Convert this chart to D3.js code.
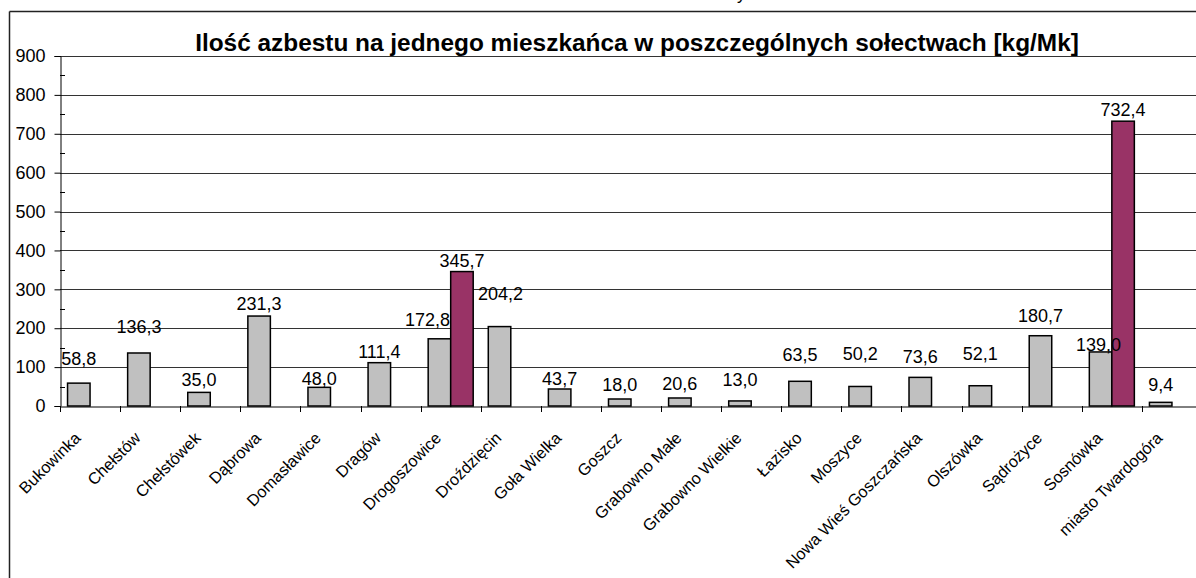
<!DOCTYPE html>
<html>
<head>
<meta charset="utf-8">
<script src="https://cdn.jsdelivr.net/npm/d3@7"></script>
<style>
  body { margin: 0; background: #fff; }
  svg { display: block; font-family: "Liberation Sans", Arial, sans-serif; }
</style>
</head>
<body>
<div id="chart"></div>
<script>
// data
const categories = ["Bukowinka", "Chełstów", "Chełstówek", "Dąbrowa", "Domasławice", "Dragów",
  "Drogoszowice", "Droździęcin", "Goła Wielka", "Goszcz", "Grabowno Małe", "Grabowno Wielkie",
  "Łazisko", "Moszyce", "Nowa Wieś Goszczańska", "Olszówka", "Sądrożyce", "Sosnówka", "miasto Twardogóra"];
const seriesGray = [58.8, 136.3, 35.0, 231.3, 48.0, 111.4, 172.8, 204.2, 43.7, 18.0, 20.6, 13.0,
  63.5, 50.2, 73.6, 52.1, 180.7, 139.0, 9.4];
const seriesPurple = [null, null, null, null, null, null, 345.7, null, null, null, null, null,
  null, null, null, null, null, 732.4, null];
const yTicks = [0, 100, 200, 300, 400, 500, 600, 700, 800, 900];
const title = "Ilość azbestu na jednego mieszkańca w poszczególnych sołectwach [kg/Mk]";

const W = 1196, H = 578;
// plot area runs a bit past the right edge of the picture
const margin = {left: 60, top: 56, right: -6, bottom: 172};

const svg = d3.select("#chart").append("svg")
  .attr("width", W).attr("height", H);

// chart frame (only top and left visible)
svg.append("line").attr("x1", 9.5).attr("x2", W).attr("y1", 11.5).attr("y2", 11.5)
  .attr("stroke", "#222").attr("stroke-width", 1.5);
svg.append("line").attr("x1", 9.5).attr("x2", 9.5).attr("y1", 11.5).attr("y2", H)
  .attr("stroke", "#222").attr("stroke-width", 1.5);

// tail of a letter cut off above the frame
svg.append("text").attr("x", 737).attr("y", 0).style("font-size", "17px").text("y");

const x = d3.scaleBand().domain(categories)
  .range([margin.left, W - margin.right]).paddingInner(0).paddingOuter(0);
const xs = d3.scaleBand().domain(["gray", "purple"])
  .range([0, x.bandwidth()]).paddingInner(0).paddingOuter(0.335);
const y = d3.scaleLinear().domain([0, 900]).range([H - margin.bottom, margin.top]);

// gridlines
svg.append("g")
  .selectAll("line").data(yTicks.filter(d => d > 0)).join("line")
  .attr("x1", margin.left).attr("x2", W)
  .attr("y1", d => Math.round(y(d)) + 0.5).attr("y2", d => Math.round(y(d)) + 0.5)
  .attr("stroke", "#333").attr("stroke-width", 1);

// y axis
const yAxis = svg.append("g")
  .attr("transform", `translate(${margin.left + 0.5},0)`)
  .call(d3.axisLeft(y).tickValues(yTicks).tickSize(6).tickPadding(9).tickFormat(d3.format("d")));
yAxis.select(".domain").attr("stroke", "#000");
yAxis.selectAll("text").style("font-size", "18px").attr("fill", "#000")
  .attr("font-family", "'Liberation Sans', Arial, sans-serif");
// minor ticks
svg.append("g").selectAll("line")
  .data(d3.range(50, 900, 100)).join("line")
  .attr("x1", margin.left).attr("x2", margin.left + 5)
  .attr("y1", d => Math.round(y(d)) + 0.5).attr("y2", d => Math.round(y(d)) + 0.5)
  .attr("stroke", "#000");

// bars
const rows = categories.map((c, i) => ({c, i, gray: seriesGray[i], purple: seriesPurple[i]}));
const barData = [];
rows.forEach(r => {
  if (r.gray != null) barData.push({c: r.c, i: r.i, s: "gray", v: r.gray});
  if (r.purple != null) barData.push({c: r.c, i: r.i, s: "purple", v: r.purple});
});
const fill = {gray: "#C0C0C0", purple: "#993366"};

svg.append("g").selectAll("rect").data(barData).join("rect")
  .attr("x", d => x(d.c) + xs(d.s))
  .attr("y", d => y(d.v))
  .attr("width", xs.bandwidth())
  .attr("height", d => y(0) - y(d.v))
  .attr("fill", d => fill[d.s])
  .attr("stroke", "#000").attr("stroke-width", 1.5);

// x axis
const xAxis = svg.append("g")
  .attr("transform", `translate(0,${y(0) + 0.5})`)
  .call(d3.axisBottom(x).tickSize(0).tickFormat(""));
xAxis.select(".domain").attr("stroke", "#000");
svg.append("g").selectAll("line")
  .data(categories).join("line")
  .attr("x1", d => Math.round(x(d)) + 0.5).attr("x2", d => Math.round(x(d)) + 0.5)
  .attr("y1", y(0)).attr("y2", y(0) + 6)
  .attr("stroke", "#000");

// category labels, rotated
svg.append("g").selectAll("text").data(categories).join("text")
  .attr("transform", d => `translate(${x(d) + x.bandwidth() / 2 - 8.5},${y(0) + 33}) rotate(-45)`)
  .attr("text-anchor", "end")
  .style("font-size", "16.3px")
  .text(d => d);

// value labels: hand placed in the original, so keep the lift above each bar
const labelGap = {gray: [25, 26, 13, 13, 9, 11, 19, 33, 10, 14, 14, 21, 27, 33, 21, 32, 20, 7, 18],
                  purple: {6: 11, 17: 12}};
const labelShift = {"gray-6": -12, "gray-17": -2, "gray-7": 1};
const fmt = v => d3.format(".1f")(v).replace(".", ",");

svg.append("g").selectAll("text").data(barData).join("text")
  .attr("x", d => x(d.c) + xs(d.s) + xs.bandwidth() / 2 + (labelShift[d.s + "-" + d.i] || 0))
  .attr("y", d => y(d.v) - labelGap[d.s][d.i])
  .attr("dy", "0.36em")
  .attr("text-anchor", "middle")
  .style("font-size", "18px")
  .text(d => fmt(d.v));

// title
svg.append("text")
  .attr("x", 637).attr("y", 51)
  .attr("text-anchor", "middle")
  .style("font-size", "24.4px").style("font-weight", "bold")
  .text(title);
</script>
</body>
</html>
